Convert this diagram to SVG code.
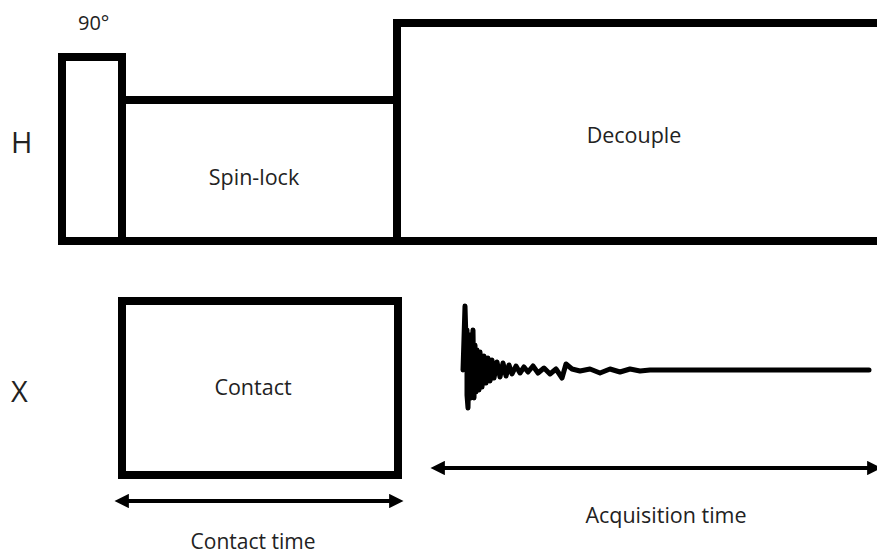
<svg xmlns="http://www.w3.org/2000/svg" width="877" height="556" viewBox="0 0 877 556">
<defs>
<style>
.p{fill:none;stroke:#000;stroke-width:8;stroke-linejoin:miter}
.t{font-family:"Open Sans","Noto Sans",sans-serif;fill:#222}
.fid{fill:none;stroke:#000;stroke-width:5;stroke-linejoin:round;stroke-linecap:round}
.ar{fill:none;stroke:#000;stroke-width:4}
</style>
<marker id="ah" viewBox="0 0 10 10" refX="2" refY="5" markerWidth="4" markerHeight="3.6" orient="auto-start-reverse" markerUnits="strokeWidth">
<path d="M0,0 L10,5 L0,10 Z" fill="#000"/>
</marker>
</defs>
<rect width="877" height="556" fill="#fff"/>
<g id="labels">
<text class="t" x="11" y="153" font-size="29">H</text>
<text class="t" x="11" y="402" font-size="29">X</text>
</g>
<g id="pulse90">
<path class="p" d="M62,241 V57 H122 V241"/>
<text class="t" x="78" y="30" font-size="20">90°</text>
</g>
<g id="spinlock">
<path class="p" d="M122,100 H397 V241"/>
<text class="t" x="254" y="185" font-size="21.5" text-anchor="middle">Spin-lock</text>
</g>
<g id="hbase">
<path class="p" d="M58,241 H877"/>
</g>
<g id="decouple">
<path class="p" d="M397,241 V23 H877"/>
<text class="t" x="634" y="143" font-size="21.5" text-anchor="middle">Decouple</text>
</g>
<g id="contact">
<rect class="p" x="122" y="301" width="276" height="174"/>
<text class="t" x="253" y="395" font-size="21.5" text-anchor="middle">Contact</text>
</g>
<g id="fid">
<path class="fid" d="M463,370 L465,306 L466,340 L467,330 L467,395 L468,408 L469,360 L470,335 L471,398 L472,345 L473,330 L474,398 L475,345 L476,392 L477,350 L479,390 L480,352 L482,387 L484,356 L486,383 L488,358 L490,381 L492,360 L494,378 L497,362 L500,377 L503,363 L506,376 L509,365 L512,374 L516,366 L520,373 L524,367 L528,372 L533,366 L538,373 L544,368 L550,374 L556,369 L562,378 L566,364 L572,369 L580,371 L590,369 L600,373 L610,369 L620,372 L630,369 L640,371 L650,370 L869,370"/>
</g>
<g id="connectors">
<line class="ar" x1="126" y1="501" x2="392" y2="501" marker-start="url(#ah)" marker-end="url(#ah)"/>
<line class="ar" x1="442" y1="468" x2="870" y2="468" marker-start="url(#ah)" marker-end="url(#ah)"/>
</g>
<g id="captions">
<text class="t" x="253" y="549" font-size="21" text-anchor="middle">Contact time</text>
<text class="t" x="666" y="523" font-size="21.5" text-anchor="middle">Acquisition time</text>
</g>
</svg>
